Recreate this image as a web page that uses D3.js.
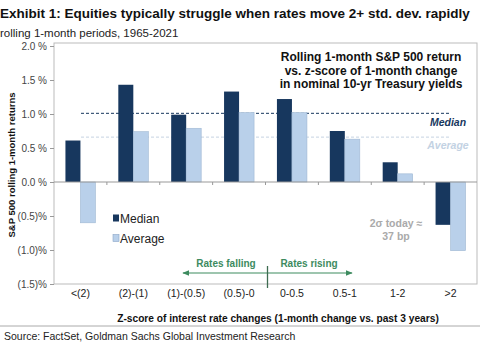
<!DOCTYPE html>
<html>
<head>
<meta charset="utf-8">
<script src="https://cdn.jsdelivr.net/npm/d3@7"></script>
<style>
  body { margin: 0; background: #fff; }
  svg { font-family: "Liberation Sans", Arial, sans-serif; display: block; }
</style>
</head>
<body>
<div id="chart-area"></div>
<script>
// data
var categories = ["<(2)", "(2)-(1)", "(1)-(0.5)", "(0.5)-0", "0-0.5", "0.5-1", "1-2", ">2"];
var medianValues = [0.61, 1.43, 0.99, 1.33, 1.22, 0.75, 0.29, -0.63];
var averageValues = [-0.60, 0.74, 0.79, 1.02, 1.02, 0.63, 0.12, -1.01];
var seriesNames = ["Median", "Average"];
var overallMedian = 1.01;
var overallAverage = 0.66;
var yTicks = [2.0, 1.5, 1.0, 0.5, 0.0, -0.5, -1.0, -1.5];

var width = 480, height = 350;
var plot = {left: 54, right: 477, top: 43, bottom: 284};

var navy = "#17375e", light = "#b9d0ea", green = "#3d8b5f";

var svg = d3.select("#chart-area").append("svg")
    .attr("width", width)
    .attr("height", height);

// Scales
var x = d3.scaleBand()
    .domain(categories)
    .range([plot.left, plot.right]);

var xSub = d3.scaleBand()
    .domain(seriesNames)
    .range([0, 30])
    .padding(0);

var y = d3.scaleLinear()
    .domain([-1.5, 2.0])
    .range([plot.bottom, 46]);

// Titles
svg.append("text")
    .attr("x", 0).attr("y", 18)
    .style("font-size", "13.5px").style("font-weight", "bold").attr("fill", "#111")
    .text("Exhibit 1: Equities typically struggle when rates move 2+ std. dev. rapidly");

svg.append("text")
    .attr("x", 0).attr("y", 37)
    .style("font-size", "11.5px").attr("fill", "#222")
    .text("rolling 1-month periods, 1965-2021");

// Frame
svg.append("rect")
    .attr("x", plot.left).attr("y", plot.top)
    .attr("width", plot.right - plot.left).attr("height", plot.bottom - plot.top)
    .attr("fill", "none").attr("stroke", "#bbb").attr("stroke-width", 1);

// Y axis
var fmt = function(d) {
    return d < 0 ? "(" + d3.format(".1f")(-d) + ")%" : d3.format(".1f")(d) + " %";
};
var yAxis = d3.axisLeft(y).tickValues(yTicks).tickFormat(fmt).tickSize(4).tickPadding(3);
var yAxisGroup = svg.append("g")
    .attr("class", "y-axis axis")
    .attr("transform", "translate(" + plot.left + ",0)")
    .call(yAxis);
yAxisGroup.select(".domain").remove();
yAxisGroup.selectAll("line").attr("stroke", "#999");
yAxisGroup.selectAll("text").style("font-size", "10px").attr("fill", "#444")
    .style("font-family", "'Liberation Sans', Arial, sans-serif");

svg.append("text")
    .attr("transform", "translate(15," + (y(0.25)) + ") rotate(-90)")
    .attr("text-anchor", "middle")
    .style("font-size", "9.5px").style("font-weight", "bold").attr("fill", "#111")
    .text("S&P 500 rolling 1-month returns");

// Reference lines
svg.append("line")
    .attr("x1", 81).attr("x2", 451)
    .attr("y1", y(overallMedian)).attr("y2", y(overallMedian))
    .attr("stroke", navy).attr("stroke-width", 1).attr("stroke-dasharray", "3,2");
svg.append("line")
    .attr("x1", 81).attr("x2", 451)
    .attr("y1", y(overallAverage)).attr("y2", y(overallAverage))
    .attr("stroke", "#c6d3e2").attr("stroke-width", 1).attr("stroke-dasharray", "3,2");

// Bars
var groups = svg.selectAll(".cat")
    .data(categories)
    .enter().append("g")
    .attr("class", "cat")
    .attr("transform", function(d) { return "translate(" + (x(d) + x.bandwidth() / 2 - 15) + ",0)"; });

groups.each(function(d, i) {
    var g = d3.select(this);
    var vals = [medianValues[i], averageValues[i]];
    g.selectAll("rect")
        .data(vals)
        .enter().append("rect")
        .attr("x", function(v, j) { return xSub(seriesNames[j]); })
        .attr("width", xSub.bandwidth())
        .attr("y", function(v) { return y(Math.max(0, v)); })
        .attr("height", function(v) { return Math.abs(y(v) - y(0)); })
        .attr("fill", function(v, j) { return j === 0 ? navy : light; })
        .attr("stroke", function(v, j) { return j === 0 ? "none" : "#9fb7d3"; })
        .attr("stroke-width", 0.6);
});

// Zero line with category ticks
svg.append("line")
    .attr("x1", plot.left).attr("x2", plot.right)
    .attr("y1", y(0)).attr("y2", y(0))
    .attr("stroke", "#999");
svg.selectAll(".ztick")
    .data(categories.slice(1))
    .enter().append("line")
    .attr("class", "ztick")
    .attr("x1", function(d) { return x(d); }).attr("x2", function(d) { return x(d); })
    .attr("y1", y(0)).attr("y2", y(0) + 3)
    .attr("stroke", "#999");

// X axis labels
var xAxis = d3.axisBottom(x).tickSize(0).tickPadding(6);
var xAxisGroup = svg.append("g")
    .attr("class", "x-axis axis")
    .attr("transform", "translate(0," + plot.bottom + ")")
    .call(xAxis);
xAxisGroup.select(".domain").remove();
xAxisGroup.selectAll("text").style("font-size", "10.5px").attr("fill", "#222")
    .style("font-family", "'Liberation Sans', Arial, sans-serif");

svg.append("text")
    .attr("x", 278).attr("y", 322)
    .attr("text-anchor", "middle")
    .style("font-size", "10.2px").style("font-weight", "bold").attr("fill", "#111")
    .text("Z-score of interest rate changes (1-month change vs. past 3 years)");

// Source
svg.append("line")
    .attr("x1", 0).attr("x2", width).attr("y1", 326).attr("y2", 326)
    .attr("stroke", "#aaa");
svg.append("text")
    .attr("x", 4).attr("y", 340)
    .style("font-size", "10.5px").attr("fill", "#222")
    .text("Source: FactSet, Goldman Sachs Global Investment Research");

// Inset title
var inset = svg.append("text")
    .attr("text-anchor", "middle")
    .style("font-size", "12px").style("font-weight", "bold").attr("fill", "#111");
["Rolling 1-month S&P 500 return", "vs. z-score of 1-month change", "in nominal 10-yr Treasury yields"]
    .forEach(function(t, i) {
        inset.append("tspan").attr("x", 371).attr("y", 61 + i * 13.5).text(t);
    });

svg.append("text")
    .attr("x", 448).attr("y", 126).attr("text-anchor", "middle")
    .style("font-size", "10.5px").style("font-weight", "bold").style("font-style", "italic")
    .attr("fill", navy).text("Median");
svg.append("text")
    .attr("x", 448).attr("y", 149).attr("text-anchor", "middle")
    .style("font-size", "10.5px").style("font-weight", "bold").style("font-style", "italic")
    .attr("fill", "#c3d2e3").text("Average");

// Legend
var legend = svg.selectAll(".legend")
    .data(seriesNames)
    .enter().append("g")
    .attr("class", "legend")
    .attr("transform", function(d, i) { return "translate(113," + (218 + i * 20) + ")"; });
legend.append("rect")
    .attr("x", 0).attr("y", -3.5).attr("width", 6).attr("height", 7)
    .attr("fill", function(d, i) { return i === 0 ? navy : light; })
    .attr("stroke", function(d, i) { return i === 0 ? "none" : "#8aa6c6"; })
    .attr("stroke-width", 0.6);
legend.append("text")
    .attr("x", 7).attr("y", 4.5)
    .style("font-size", "12px").attr("fill", "#222")
    .text(function(d) { return d; });

// 2 sigma note
var note = svg.append("text")
    .attr("text-anchor", "middle")
    .style("font-size", "10.5px").style("font-weight", "bold").attr("fill", "#aaa");
note.append("tspan").attr("x", 396).attr("y", 227).text("2σ today ≈");
note.append("tspan").attr("x", 396).attr("y", 240).text("37 bp");

// Rates falling / rising arrows
var mid = x("0-0.5");
svg.append("defs").append("marker")
    .attr("id", "arrow")
    .attr("viewBox", "0 0 10 10").attr("refX", 9).attr("refY", 5)
    .attr("markerWidth", 6).attr("markerHeight", 6).attr("orient", "auto-start-reverse")
    .append("path").attr("d", "M0,1 L10,5 L0,9 Z").attr("fill", green);
svg.append("line")
    .attr("x1", 183).attr("x2", 352).attr("y1", 273).attr("y2", 273)
    .attr("stroke", green).attr("stroke-width", 1.2)
    .attr("marker-start", "url(#arrow)").attr("marker-end", "url(#arrow)");
svg.append("line")
    .attr("x1", mid + 2).attr("x2", mid + 2).attr("y1", 266).attr("y2", 288)
    .attr("stroke", "#3d6b50").attr("stroke-width", 1.3);
svg.append("text")
    .attr("x", 226).attr("y", 267).attr("text-anchor", "middle")
    .style("font-size", "10px").style("font-weight", "bold").attr("fill", green)
    .text("Rates falling");
svg.append("text")
    .attr("x", 309).attr("y", 267).attr("text-anchor", "middle")
    .style("font-size", "10px").style("font-weight", "bold").attr("fill", green)
    .text("Rates rising");
</script>
</body>
</html>
